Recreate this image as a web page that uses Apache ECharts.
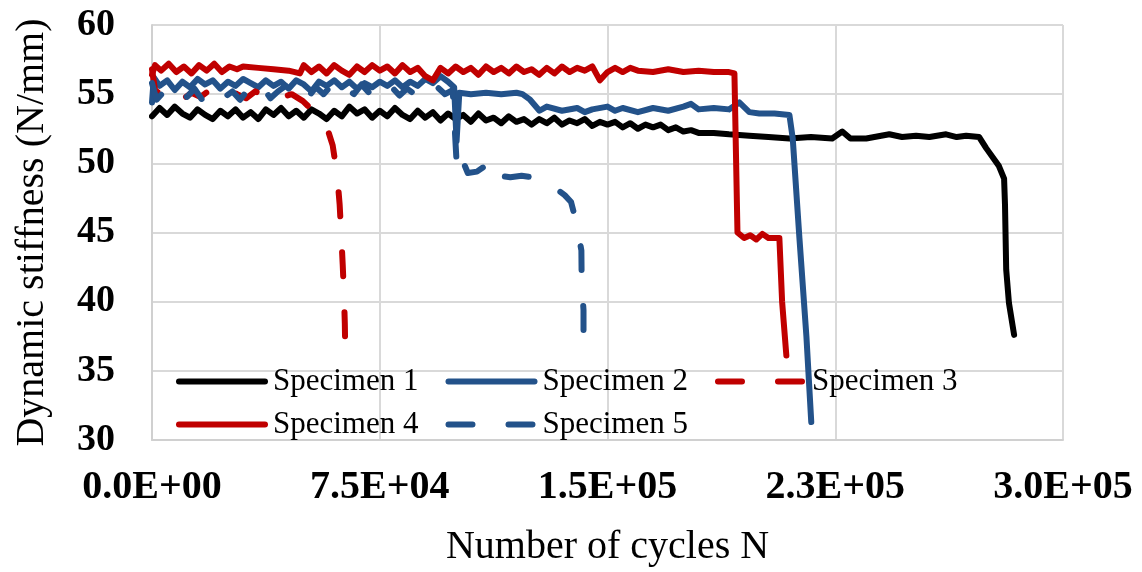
<!DOCTYPE html>
<html>
<head>
<meta charset="utf-8">
<script src="https://cdn.jsdelivr.net/npm/echarts@6/dist/echarts.min.js"></script>
<style>
html,body{margin:0;padding:0;background:#fff;}
#chart{width:1142px;height:572px;}
</style>
</head>
<body>
<div id="chart"></div>
<script>
// ---- data ----
const seriesNames = ['Specimen 1','Specimen 2','Specimen 3','Specimen 4','Specimen 5'];
const xTickLabels = ['0.0E+00','7.5E+04','1.5E+05','2.3E+05','3.0E+05'];
const yTickLabels = ['30','35','40','45','50','55','60'];

const specimen1 = [[0,53.4],[2500,54.0],[5000,53.5],[7500,54.1],[10000,53.6],[12500,53.3],[15000,53.9],[17500,53.5],[20000,53.2],[22500,53.8],[25000,53.4],[27500,53.9],[30000,53.3],[32500,53.7],[35000,53.2],[37500,53.9],[40000,53.5],[42500,54.0],[45000,53.4],[47500,53.8],[50000,53.3],[52500,53.9],[55000,53.6],[57500,53.2],[60000,53.8],[62500,53.4],[65000,54.1],[67500,53.6],[70000,53.9],[72500,53.3],[75000,53.8],[77500,53.4],[80000,54.0],[82500,53.5],[85000,53.2],[87500,53.8],[90000,53.3],[92500,53.7],[95000,53.1],[97500,53.6],[100000,53.2],[102500,53.5],[105000,53.0],[107500,53.6],[110000,53.1],[112500,53.3],[115000,52.9],[117500,53.4],[120000,53.0],[122500,53.2],[125000,52.8],[127500,53.2],[130000,52.9],[132500,53.3],[135000,52.8],[137500,53.1],[140000,52.9],[142500,53.2],[145000,52.7],[147500,53.0],[150000,52.8],[152500,53.0],[155000,52.6],[157500,52.9],[160000,52.5],[162500,52.8],[165000,52.6],[167500,52.8],[170000,52.4],[172500,52.6],[175000,52.3],[177500,52.4],[180000,52.2],[185000,52.2],[190000,52.1],[196700,52.0],[203000,51.9],[209900,51.8],[217000,51.9],[224000,51.8],[227300,52.3],[230000,51.8],[235200,51.8],[242800,52.1],[247000,51.9],[251600,52.0],[256000,51.9],[261500,52.1],[265000,51.9],[268100,52.0],[272400,51.9],[274700,51.1],[278900,49.8],[280600,48.9],[280900,47.0],[281300,42.3],[282200,39.9],[283900,37.6]];

const specimen2 = [[0,54.4],[600,56.2],[2500,55.6],[5000,56.0],[7500,55.3],[10000,55.9],[12500,55.5],[15000,56.1],[17500,55.7],[20000,56.0],[22500,55.4],[25000,55.9],[27500,55.6],[30000,56.1],[32500,55.8],[35000,55.5],[37500,56.0],[40000,55.6],[42500,55.9],[45000,55.4],[47500,56.0],[50000,55.7],[52500,55.2],[55000,55.9],[57500,55.6],[60000,56.0],[62500,55.5],[65000,55.9],[67500,55.4],[70000,55.8],[72500,55.5],[75000,55.9],[77500,55.6],[80000,56.0],[82500,55.5],[85000,55.9],[87500,55.6],[90000,56.1],[92500,55.8],[95000,56.3],[97500,55.9],[99500,55.5],[100300,51.6],[101200,55.1],[105000,55.0],[110000,55.1],[115000,55.0],[120000,55.1],[122000,55.0],[124500,54.6],[127600,53.8],[130000,54.1],[135000,53.8],[140000,54.0],[142500,53.7],[145000,53.9],[150000,54.1],[152500,53.8],[155000,54.0],[160000,53.7],[165000,54.0],[170000,53.8],[175000,54.1],[177500,54.3],[180000,53.9],[185000,54.0],[190000,53.9],[193400,54.4],[196700,53.7],[200000,53.6],[205000,53.6],[209900,53.5],[211000,51.8],[213200,44.6],[215500,37.5],[217100,31.3]];

const specimen3 = [[0,56.8],[1000,55.3],[4000,54.8],[7000,55.2],[10000,54.6],[13000,55.1],[16000,54.8],[19000,55.3],[22000,54.9],[25000,55.4],[28000,55.0],[31000,54.7],[34000,55.2],[37000,54.9],[40000,55.3],[43000,54.8],[46000,55.0],[49700,54.5],[53000,53.8],[56900,53.1],[59500,51.3],[61000,49.1],[61800,47.0],[62300,44.9],[62800,42.7],[63200,40.6],[63500,38.4],[63600,37.0]];

const specimen4 = [[0,56.4],[1000,57.1],[3000,56.7],[5500,57.2],[8000,56.6],[10500,57.0],[13000,56.5],[15500,57.1],[18000,56.7],[20500,57.2],[23000,56.6],[25500,57.0],[28000,56.8],[30000,57.0],[35000,56.9],[40000,56.8],[45000,56.7],[48700,56.5],[50000,57.1],[52500,56.6],[55000,57.0],[57500,56.5],[60000,57.1],[62500,56.7],[65000,56.4],[67500,57.0],[70000,56.6],[72500,57.1],[75000,56.7],[77500,57.0],[80000,56.5],[82500,57.1],[85000,56.6],[87500,56.9],[90000,56.3],[92500,56.0],[95000,56.9],[97500,56.5],[100000,57.0],[102500,56.6],[105000,56.9],[107500,56.4],[110000,57.0],[112500,56.6],[115000,56.9],[117500,56.5],[120000,57.0],[122500,56.6],[125000,56.8],[127500,56.4],[130000,56.9],[132500,56.5],[135000,57.0],[137500,56.6],[140000,56.9],[142500,56.7],[145000,57.0],[147500,56.0],[150000,56.6],[152500,56.9],[155000,56.6],[157500,56.9],[160000,56.7],[165000,56.6],[170000,56.8],[175000,56.6],[180000,56.7],[185000,56.6],[190000,56.6],[191800,56.5],[192800,45.0],[195000,44.6],[197000,44.8],[199000,44.5],[201000,44.9],[203000,44.6],[206600,44.6],[207500,40.0],[208900,36.1]];

const specimen5 = [[0,55.8],[1500,54.6],[4000,55.2],[6500,54.7],[9000,55.3],[11500,54.8],[14000,55.4],[16500,54.6],[19000,55.1],[21500,55.5],[24000,54.8],[26500,55.2],[29000,54.6],[31500,55.3],[34000,54.9],[36500,55.5],[39000,54.7],[41500,55.2],[44000,55.6],[46500,54.9],[49000,55.3],[51500,54.8],[54000,55.5],[56500,55.0],[59000,55.6],[61500,54.9],[64000,55.4],[66500,55.0],[69000,55.7],[71500,55.1],[74000,55.6],[76500,55.0],[79000,55.5],[81500,54.9],[84000,55.4],[86500,55.0],[89000,55.6],[91500,55.1],[94000,55.5],[96500,55.0],[99000,55.3],[100500,49.3],[102300,50.2],[104000,49.3],[107000,49.4],[110300,49.9],[110700,48.9],[114000,49.1],[118000,49.0],[121700,49.1],[125000,49.0],[129300,48.8],[135900,47.7],[138000,47.2],[139800,45.7],[141400,43.7],[141500,41.3],[142100,39.4],[142100,37.0]];

const seriesData = [specimen1, specimen2, specimen3, specimen4, specimen5];
const seriesColors = ['#000000','#23528A','#C00000','#C00000','#23528A'];
const seriesDashed = [false, false, true, false, true];

const FONT = "'Liberation Serif','Times New Roman',serif";
const X_STEP = 75000;
const Y_MIN = 30;

const chart = echarts.init(document.getElementById('chart'), null, {renderer:'canvas'});

const series = seriesNames.map((name, i) => ({
  name: name,
  type: 'line',
  data: seriesData[i],
  symbol: 'none',
  showSymbol: false,
  smooth: false,
  color: seriesColors[i],
  lineStyle: {
    color: seriesColors[i],
    width: 6,
    type: seriesDashed[i] ? [24, 36] : 'solid',
    cap: 'round',
    join: 'round'
  },
  emphasis: {disabled: true},
  z: 2 + i
}));

const legendCommon = {
  orient: 'horizontal',
  left: 176,
  itemWidth: 86,
  itemHeight: 20,
  itemGap: 27,
  padding: 0,
  selectedMode: false,
  lineStyle: {width: 6},
  itemStyle: {color: 'rgba(0,0,0,0)', borderWidth: 0, opacity: 0},
  textStyle: {fontFamily: FONT, fontSize: 31, color: '#000', lineHeight: 30, padding: [0,0,0,3]}
};

chart.setOption({
  animation: false,
  backgroundColor: '#ffffff',
  grid: {left: 152, right: 79, top: 25, bottom: 127, containLabel: false},
  legend: [
    Object.assign({}, legendCommon, {top: 366, data: seriesNames.slice(0,3)}),
    Object.assign({}, legendCommon, {top: 409, data: seriesNames.slice(3,5)})
  ],
  xAxis: {
    type: 'value',
    min: 0, max: 300000, interval: X_STEP,
    name: 'Number of cycles N',
    nameLocation: 'middle',
    nameGap: 87,
    nameTextStyle: {fontFamily: FONT, fontSize: 40, color: '#000'},
    axisLine: {show: true, lineStyle: {color: '#d0d0d0', width: 2}},
    axisTick: {show: false},
    splitLine: {show: true, lineStyle: {color: '#d9d9d9', width: 2}},
    axisLabel: {
      fontFamily: FONT, fontSize: 40, fontWeight: 'bold', color: '#000', margin: 28,
      formatter: v => xTickLabels[Math.round(v / X_STEP)]
    }
  },
  yAxis: {
    type: 'value',
    min: 30, max: 60, interval: 5,
    name: 'Dynamic stiffness (N/mm)',
    nameLocation: 'middle',
    nameGap: 100,
    nameRotate: 90,
    nameTextStyle: {fontFamily: FONT, fontSize: 40, color: '#000'},
    axisLine: {show: true, lineStyle: {color: '#d0d0d0', width: 2}},
    axisTick: {show: false},
    splitLine: {show: true, lineStyle: {color: '#d9d9d9', width: 2}},
    axisLabel: {
      fontFamily: FONT, fontSize: 38, fontWeight: 'bold', color: '#000', margin: 37,
      formatter: v => yTickLabels[Math.round((v - Y_MIN) / 5)]
    }
  },
  series: series
});
</script>
</body>
</html>
